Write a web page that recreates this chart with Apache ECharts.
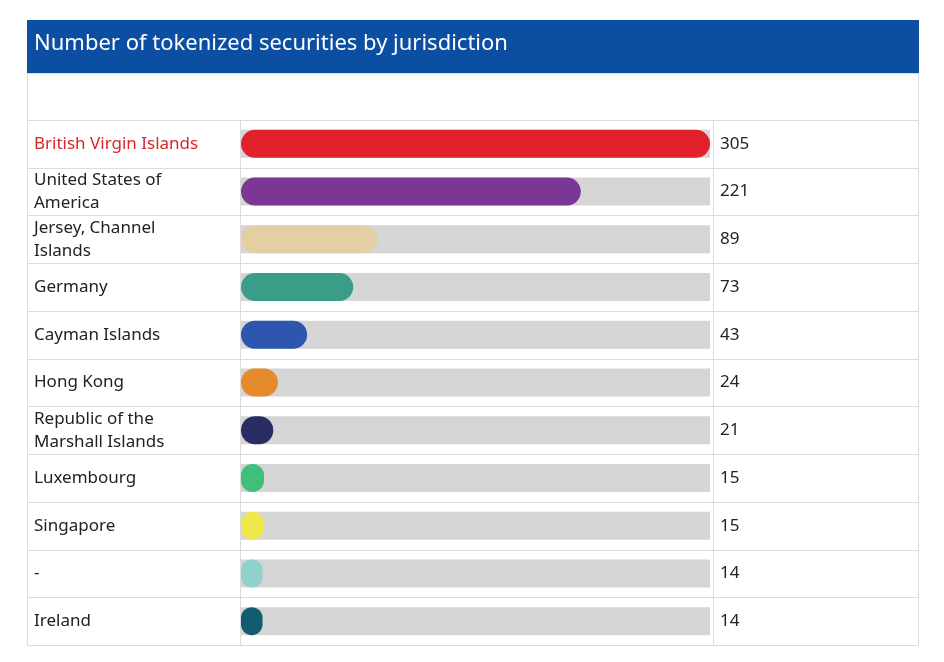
<!DOCTYPE html>
<html>
<head>
<meta charset="utf-8">
<script src="https://cdn.jsdelivr.net/npm/echarts@6/dist/echarts.min.js"></script>
<style>html,body{margin:0;padding:0;background:#fff}#main{width:944px;height:662px}</style>
</head>
<body>
<div id="main"></div>
<script>
'use strict';

var categories = ['British Virgin Islands', 'United States of\nAmerica', 'Jersey, Channel\nIslands', 'Germany',
    'Cayman Islands', 'Hong Kong', 'Republic of the\nMarshall Islands', 'Luxembourg', 'Singapore', '-', 'Ireland'];
var values = [305, 221, 89, 73, 43, 24, 21, 15, 15, 14, 14];
var colors = ['#e1212b', '#7a3793', '#e4cfa5', '#3a9d88', '#2f56ae', '#e68a2e', '#2a2d63',
    '#3fbf79', '#efe84a', '#8ed2cb', '#125c71'];

var myChart = echarts.init(document.getElementById('main'));

var top0 = 120, bottom0 = 645, left0 = 27, right0 = 919;
var rowH = (bottom0 - top0) / categories.length;
var lineStyle = {stroke: '#dcdcdc', lineWidth: 1};

// frame and row lines
var graphics = [
    {type: 'rect', shape: {x: left0, y: 20, width: right0 - left0, height: 53}, style: {fill: '#0b4ea2'}},
    {type: 'text', left: 34, top: 33, style: {text: 'Number of tokenized securities by jurisdiction',
        fill: '#fff', font: '22px "Noto Sans"'}},
    {type: 'rect', shape: {x: left0 + 0.5, y: 73.5, width: right0 - left0 - 1, height: bottom0 - 73}, style: {fill: 'none', stroke: '#dcdcdc'}},
    {type: 'line', shape: {x1: 240.5, y1: top0, x2: 240.5, y2: bottom0}, style: lineStyle},
    {type: 'line', shape: {x1: 713.5, y1: top0, x2: 713.5, y2: bottom0}, style: lineStyle}
];
for (var i = 0; i < categories.length; i++) {
    var y = Math.round(top0 + i * rowH) + 0.5;
    graphics.push({type: 'line', shape: {x1: left0, y1: y, x2: right0, y2: y}, style: lineStyle});
}

var option = {
    animation: false,
    graphic: graphics,
    grid: {left: 241, right: 944 - 710, top: top0, bottom: 662 - bottom0},
    xAxis: {type: 'value', min: 0, max: 305, show: false},
    yAxis: [
        {
            type: 'category', inverse: true, data: categories,
            axisLine: {show: false}, axisTick: {show: false},
            axisLabel: {
                align: 'left', margin: 207, fontSize: 17, lineHeight: 23,
                fontFamily: 'Noto Sans',
                color: function (v, idx) { return idx === 0 ? '#d9262c' : '#222'; }
            }
        },
        {
            type: 'category', inverse: true, position: 'right', data: values,
            axisLine: {show: false}, axisTick: {show: false},
            axisLabel: {margin: 10, fontSize: 17, color: '#222', fontFamily: 'Noto Sans'}
        }
    ],
    series: [{
        type: 'bar',
        barWidth: 28,
        data: values.map(function (v, idx) {
            return {value: v, itemStyle: {color: colors[idx]}};
        }),
        itemStyle: {borderRadius: 14},
        showBackground: true,
        backgroundStyle: {color: '#d5d5d5', borderRadius: 0}
    }]
};

myChart.setOption(option);
</script>
</body>
</html>
